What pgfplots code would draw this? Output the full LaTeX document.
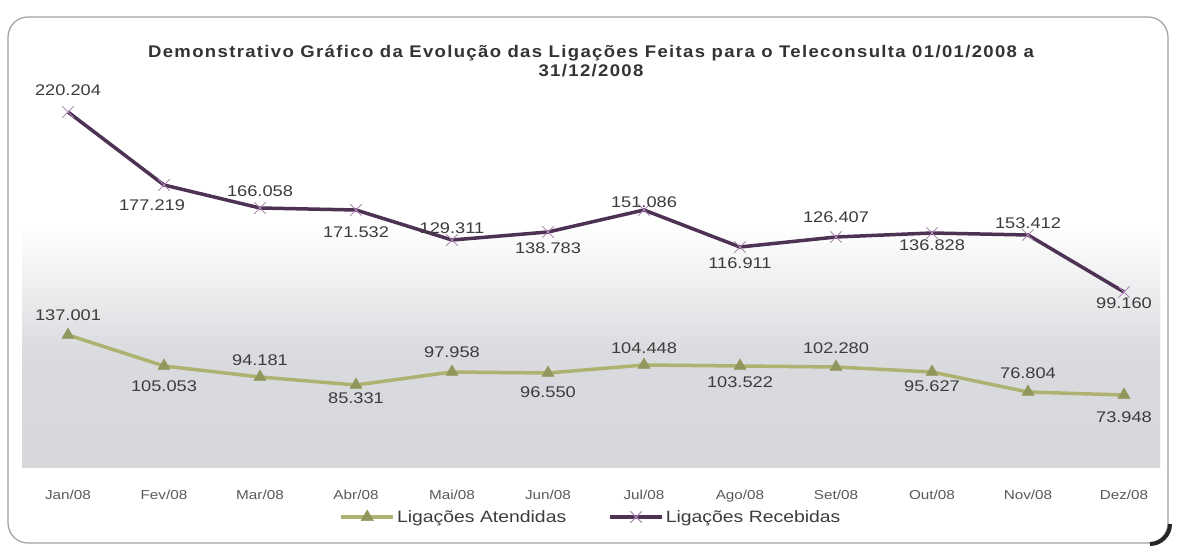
\documentclass[border=0pt]{standalone}
\usepackage{fontspec}
\setmainfont{Liberation Sans}[FakeStretch=1.18]
\newfontfamily\titlefont{Liberation Sans}[FakeStretch=1.1, LetterSpace=8]
\usepackage{pgfplots}
\pgfplotsset{compat=1.18}
\usepackage{pgfplotstable}

\definecolor{recline}{RGB}{78,50,84}
\definecolor{recmark}{RGB}{175,135,182}
\definecolor{atdline}{RGB}{174,178,112}
\definecolor{atdmark}{RGB}{145,151,92}
\definecolor{lbl}{RGB}{60,60,60}
\definecolor{bglow}{RGB}{214,215,219}

\pgfdeclareverticalshading{plotbg}{100bp}{color(0bp)=(bglow); color(25bp)=(bglow); color(40bp)=(bglow!90!white); color(48bp)=(bglow!45!white); color(57bp)=(white); color(100bp)=(white)}

% y = height of the point above the plot floor, as drawn; lab = printed value
\pgfplotstableread{
x y lab dy dx
0 355 220.204 22 0
1 282 177.219 -20 -12
2 259 166.058 17 0
3 257 171.532 -22 0
4 227 129.311 12 0
5 235 138.783 -16 0
6 257 151.086 8 0
7 220 116.911 -16 0
8 230 126.407 20 0
9 234 136.828 -12 0
10 232 153.412 12 0
11 175 99.160 -11 0
}\recebidas

\pgfplotstableread{
x y lab dy dx
0 132 137.001 20 0
1 101 105.053 -20 0
2 90 94.181 17 0
3 82 85.331 -13 0
4 95 97.958 20 0
5 94 96.550 -19 0
6 102 104.448 17 0
7 101 103.522 -16 0
8 100 102.280 19 0
9 95 95.627 -14 0
10 75 76.804 19 0
11 72 73.948 -22 0
}\atendidas

\begin{document}
\begin{tikzpicture}
\path[use as bounding box] (-22bp,-80bp) rectangle (1157bp,467bp);
\draw[rounded corners=20bp, gray!75, line width=1.2bp] (-14bp,-76bp) rectangle (1146bp,450bp);
\draw[black!85, line width=4bp] (1128bp,-77bp) arc[start angle=-90, end angle=0, radius=20bp];
\begin{axis}[
    scale only axis,
    width=1138bp, height=382bp,
    xmin=-0.479, xmax=11.375,
    ymin=0, ymax=382,
    clip=false,
    axis line style={draw=none},
    major tick length=0pt,
    ytick=\empty,
    xtick={0,...,11},
    xticklabels={Jan/08,Fev/08,Mar/08,Abr/08,Mai/08,Jun/08,Jul/08,Ago/08,Set/08,Out/08,Nov/08,Dez/08},
    xticklabel style={font=\fontsize{13}{15}\selectfont, text=lbl!85!white, yshift=-20bp},
    axis background/.style={shade, shading=plotbg},
    title={Demonstrativo Gráfico da Evolução das Ligações Feitas para o Teleconsulta 01/01/2008 a\\31/12/2008},
    title style={font=\titlefont\fontsize{16.9}{20}\selectfont\bfseries, text=black!80, align=center,
        at={(0.5,1)}, anchor=center, yshift=18bp},
    legend columns=2,
    legend style={at={(0.5,0)}, anchor=center, yshift=-50bp, draw=none, fill=none,
        font=\fontsize{16.5}{18}\selectfont, text=lbl,
        /tikz/every even column/.append style={column sep=40bp}},
    legend image code/.code={\draw[mark repeat=2, mark phase=2, #1] plot coordinates {(0bp,0bp) (26bp,0bp) (52bp,0bp)};},
    nodes near coords,
    point meta=explicit symbolic,
    visualization depends on={\thisrow{dy} \as \dy},
    visualization depends on={\thisrow{dx} \as \dx},
    nodes near coords style={font=\fontsize{15.5}{17}\selectfont, text=lbl, anchor=center,
        yshift={\dy*1bp}, xshift={\dx*1bp}},
]
\addplot[atdline, line width=3.5bp, mark=triangle*, mark size=7bp,
    mark options={atdmark, fill=atdmark, line width=0.5bp}]
    table[x=x, y=y, meta=lab] {\atendidas};
\addlegendentry{Ligações Atendidas}
\addplot[recline, line width=3.5bp, mark=x, mark size=8bp,
    mark options={recmark, line width=1bp}]
    table[x=x, y=y, meta=lab] {\recebidas};
\addlegendentry{Ligações Recebidas}
\end{axis}
\end{tikzpicture}
\end{document}
